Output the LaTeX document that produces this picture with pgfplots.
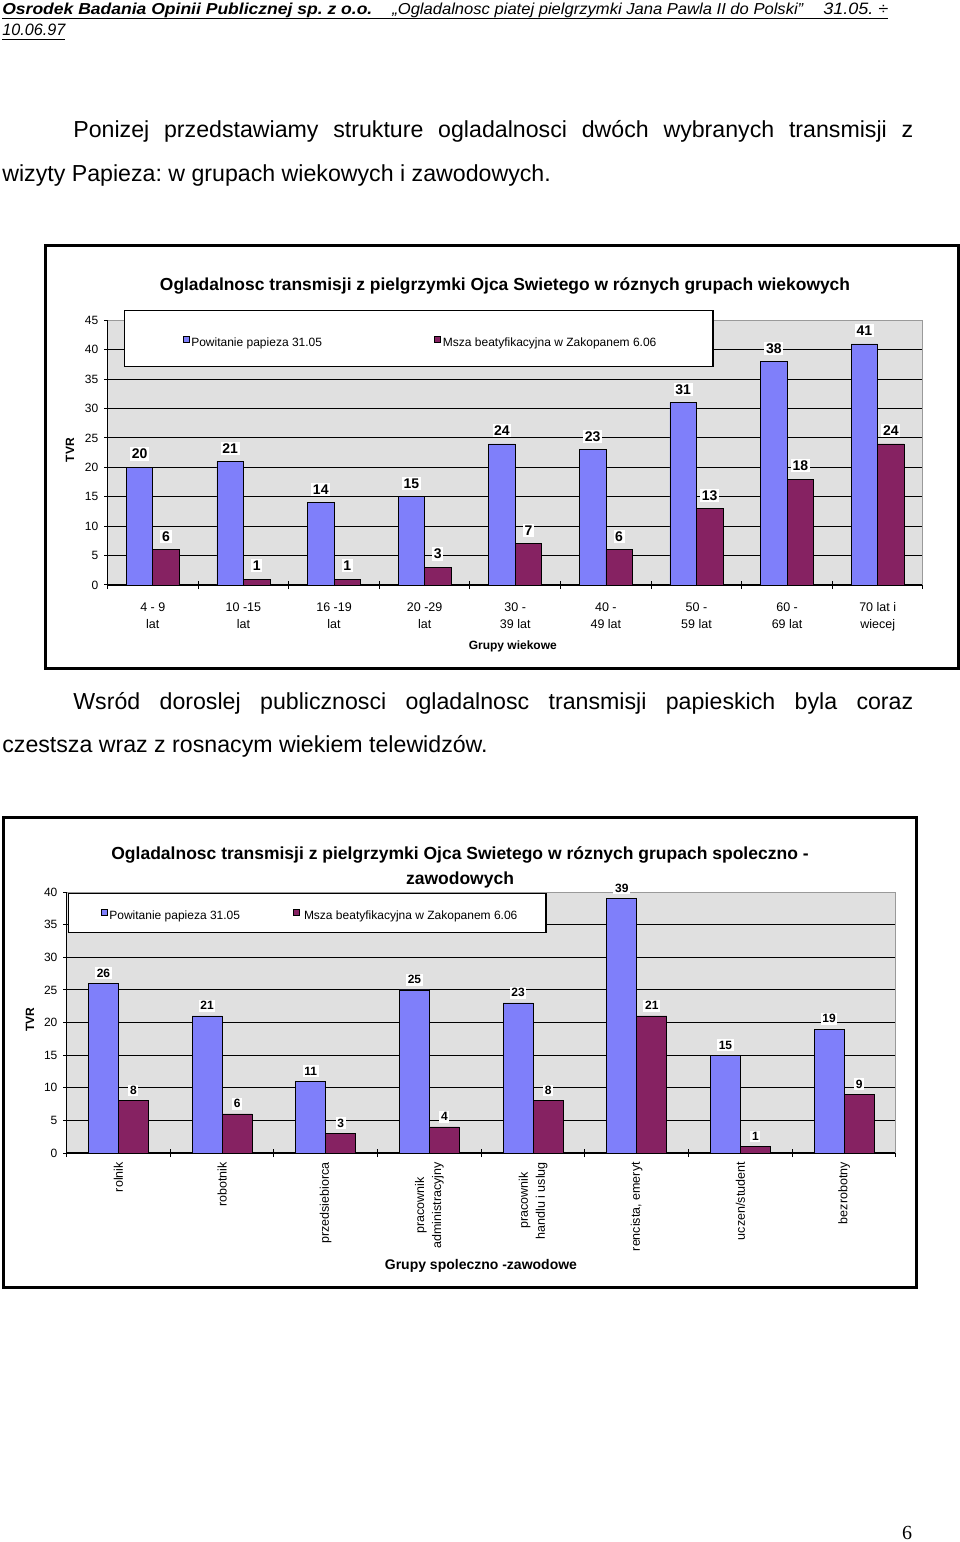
\documentclass[border=0pt]{standalone}
\usepackage{fontspec}
\setmainfont{Liberation Sans}
\newfontfamily\seriffont{Liberation Serif}
\usepackage{graphicx}
\usepackage{pgfplots}
\pgfplotsset{compat=1.18}
\frenchspacing

\definecolor{barblue}{HTML}{7F7FFA}
\definecolor{barpurple}{HTML}{862262}
\definecolor{plotbg}{HTML}{E0E0E0}
\definecolor{frame}{HTML}{9A9A9A}

\pgfplotsset{
  pagechart/.style={
    scale only axis,
    ybar=0pt,
    axis x line*=bottom, axis y line*=left,
    axis line style={-, black, line width=0.8pt},
    axis background/.style={fill=plotbg},
    ymajorgrids, major grid style={black, line width=0.6pt},
    major x tick style={draw=none},
    minor x tick style={black, line width=0.6pt},
    major y tick style={black, line width=0.6pt},
    tick align=center, major tick length=4pt, minor tick length=5pt,
    /pgf/number format/assume math mode=true,
    yticklabel style={font=\fontsize{7.2pt}{8pt}\selectfont},
    nodes near coords,
    legend columns=2,
    legend cell align=left,
  },
}

\begin{document}
\begin{tikzpicture}[x=0.6pt,y=0.6pt]
\useasboundingbox (0,0) rectangle (960,-1542);

% header
\node[anchor=base west,inner sep=0] at (2,-15) {\resizebox{222pt}{6.9pt}{\bfseries\itshape Osrodek Badania Opinii Publicznej sp. z o.o.}};
\node[anchor=base west,inner sep=0] at (392,-15) {\resizebox{246.6pt}{6.9pt}{\itshape „Ogladalnosc piatej pielgrzymki Jana Pawla II do Polski”}};
\node[anchor=base west,inner sep=0] at (823,-15) {\resizebox{39pt}{6.9pt}{\itshape 31.05. ÷}};
\node[anchor=base west,inner sep=0] at (2,-36) {\resizebox{37.8pt}{6.9pt}{\itshape 10.06.97}};
\draw[line width=0.9pt] (2,-18.5) -- (888,-18.5);
\draw[line width=0.9pt] (2,-39.5) -- (65,-39.5);

% body text
\begin{scope}[every node/.style={anchor=base west,inner sep=0,font=\fontsize{13.9pt}{16pt}\selectfont}]
\node at (73,-138) {\makebox[504pt][s]{Ponizej przedstawiamy strukture ogladalnosci dwóch wybranych transmisji z}};
\node at (2,-182) {wizyty Papieza: w grupach wiekowych i zawodowych.};
\node at (73,-709) {\makebox[504pt][s]{Wsród doroslej publicznosci ogladalnosc transmisji papieskich byla coraz}};
\node at (2,-752) {czestsza wraz z rosnacym wiekiem telewidzów.};
\end{scope}

% chart frames and titles
\draw[line width=1.8pt] (45,-246) rectangle (958,-668);
\draw[line width=1.8pt] (3,-817) rectangle (916,-1287);
\node[anchor=center,inner sep=0,font=\bfseries\fontsize{10.45pt}{12pt}\selectfont] at (505,-286)
  {Ogladalnosc transmisji z pielgrzymki Ojca Swietego w róznych grupach wiekowych};
\node[anchor=center,inner sep=0,align=center,font=\bfseries\fontsize{10.5pt}{15pt}\selectfont] at (460,-867.5)
  {Ogladalnosc transmisji z pielgrzymki Ojca Swietego w róznych grupach spoleczno -\\zawodowych};

% chart 1: age groups
\begin{axis}[pagechart,
  at={(64.5pt,-351pt)}, anchor=south west,
  width=489.3pt, height=158.8pt,
  xmin=-0.5, xmax=8.5, ymin=0, ymax=45,
  bar width=15.9pt,
  ytick={0,5,...,45},
  xtick={0,...,8},
  minor xtick={-0.5,0.5,...,8.5},
  xticklabels={{4 - 9\\lat},{10 -15\\lat},{16 -19\\lat},{20 -29\\lat},{30 -\\39 lat},{40 -\\49 lat},{50 -\\59 lat},{60 -\\69 lat},{70 lat i\\wiecej}},
  xticklabel style={font=\fontsize{7.5pt}{10.2pt}\selectfont, align=center, yshift=-5pt},
  every node near coord/.append style={font=\bfseries\fontsize{8.4pt}{10pt}\selectfont, fill=white, inner sep=1pt, yshift=3.8pt},
  xlabel={Grupy wiekowe},
  xlabel style={at={(0.497,-0.2305)}, anchor=center, font=\bfseries\fontsize{7.2pt}{9pt}\selectfont},
  ylabel={TVR},
  ylabel style={at={(-0.046,0.51)}, anchor=center, font=\bfseries\fontsize{7.2pt}{9pt}\selectfont},
  legend style={at={(0.0202,1.0393)}, anchor=north west, draw=black, line width=0.8pt, fill=white,
    inner xsep=0pt, inner ysep=11.8pt,
    nodes={inner sep=0pt, text height=10pt, text depth=0pt, font=\fontsize{7.2pt}{8pt}\selectfont},
    /tikz/every even column/.append style={column sep=0pt}},
]
\draw[frame, line width=1pt] (rel axis cs:0,1) -- (rel axis cs:1,1) -- (rel axis cs:1,0);
\addplot[fill=barblue, draw=black, line width=0.4pt,
  legend image code/.code={\path (-34.8pt,0pt) (4.8pt,0pt); \draw[fill=barblue,draw=black,line width=0.4pt] (0pt,-2.4pt) rectangle (3.6pt,1.2pt);}]
  coordinates {(0,20) (1,21) (2,14) (3,15) (4,24) (5,23) (6,31) (7,38) (8,41)};
\addplot[fill=barpurple, draw=black, line width=0.4pt,
  legend image code/.code={\path (0pt,0pt) (4.8pt,0pt); \draw[fill=barpurple,draw=black,line width=0.4pt] (0pt,-2.4pt) rectangle (3.6pt,1.2pt);}]
  coordinates {(0,6) (1,1) (2,1) (3,3) (4,7) (5,6) (6,13) (7,18) (8,24)};
\legend{\makebox[145.8pt][l]{Powitanie papieza 31.05},\makebox[162pt][l]{Msza beatyfikacyjna w Zakopanem 6.06}}
\end{axis}

% chart 2: socio-professional groups
\begin{axis}[pagechart,
  at={(39.96pt,-691.8pt)}, anchor=south west,
  width=497.6pt, height=156.6pt,
  xmin=-0.5, xmax=7.5, ymin=0, ymax=40,
  bar width=18pt,
  ytick={0,5,...,40},
  xtick={0,...,7},
  minor xtick={-0.5,0.5,...,7.5},
  xticklabels={{rolnik},{robotnik},{przedsiebiorca},{pracownik\\administracyjny},{pracownik\\handlu i uslug},{rencista, emeryt},{uczen/student},{bezrobotny}},
  xticklabel style={rotate=90, anchor=east, align=center, font=\fontsize{7.5pt}{10.2pt}\selectfont},
  every node near coord/.append style={font=\bfseries\fontsize{7.2pt}{9pt}\selectfont, fill=white, inner sep=1pt, yshift=2.4pt},
  xlabel={Grupy spoleczno -zawodowe},
  xlabel style={at={(0.4996,-0.433)}, anchor=center, font=\bfseries\fontsize{8.4pt}{10pt}\selectfont},
  ylabel={TVR},
  ylabel style={at={(-0.0441,0.51)}, anchor=center, font=\bfseries\fontsize{7.2pt}{9pt}\selectfont},
  legend style={at={(0.0017,0.9962)}, anchor=north west, draw=black, line width=0.8pt, fill=white,
    inner xsep=0pt, inner ysep=7.6pt,
    nodes={inner sep=0pt, text height=8.2pt, text depth=0pt, font=\fontsize{7.2pt}{8pt}\selectfont},
    /tikz/every even column/.append style={column sep=0pt}},
]
\draw[frame, line width=1pt] (rel axis cs:0,1) -- (rel axis cs:1,1) -- (rel axis cs:1,0);
\addplot[fill=barblue, draw=black, line width=0.4pt,
  legend image code/.code={\path (-19.2pt,0pt) (4.8pt,0pt); \draw[fill=barblue,draw=black,line width=0.4pt] (0pt,-1.5pt) rectangle (3.6pt,2.1pt);}]
  coordinates {(0,26) (1,21) (2,11) (3,25) (4,23) (5,39) (6,15) (7,19)};
\addplot[fill=barpurple, draw=black, line width=0.4pt,
  legend image code/.code={\path (0pt,0pt) (6pt,0pt); \draw[fill=barpurple,draw=black,line width=0.4pt] (0pt,-1.5pt) rectangle (3.6pt,2.1pt);}]
  coordinates {(0,8) (1,6) (2,3) (3,4) (4,8) (5,21) (6,1) (7,9)};
\legend{\makebox[110.4pt][l]{Powitanie papieza 31.05},\makebox[145.2pt][l]{Msza beatyfikacyjna w Zakopanem 6.06}}
\end{axis}

% page number
\node[anchor=base,inner sep=0,font=\seriffont\fontsize{12pt}{14pt}\selectfont] at (907,-1539) {6};
\end{tikzpicture}
\end{document}
